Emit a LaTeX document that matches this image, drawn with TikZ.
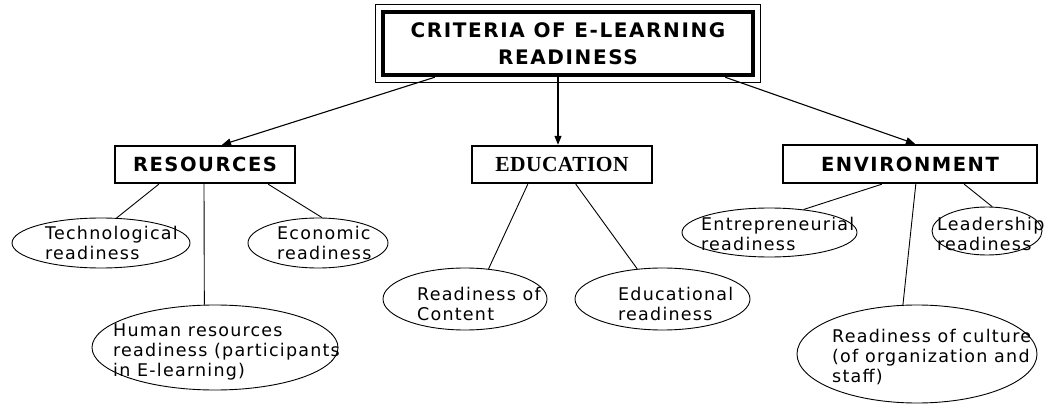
\documentclass[tikz,border=0pt]{standalone}
\usepackage{fontspec}
\setmainfont{DejaVu Sans}
\newfontfamily\regfont[LetterSpace=7]{DejaVu Sans}
\newfontfamily\hdfont[LetterSpace=8]{DejaVu Sans}
\newfontfamily\edufont[LetterSpace=2]{Liberation Serif}
\usetikzlibrary{arrows.meta,shapes.geometric}

\begin{document}
\begin{tikzpicture}[x=1pt,y=-1pt,
  catbox/.style={draw, line width=2.4pt, rectangle, minimum height=37pt, inner sep=0pt,
                 font=\hdfont\bfseries\fontsize{19.5}{20}\selectfont},
  oval/.style={draw, ellipse, line width=0.9pt, inner sep=0pt},
  lbl/.style={anchor=north west, inner sep=0pt, align=left,
              font=\regfont\fontsize{17.5}{20}\selectfont},
  link/.style={line width=0.9pt},
  arr/.style={line width=1.1pt, -{Triangle[length=9pt,width=7pt]}}]
\useasboundingbox (0,0) rectangle (1044,406);

% title
\node[draw, line width=4.5pt, minimum width=370pt, minimum height=63pt, inner sep=0pt,
      align=center, font=\hdfont\bfseries\fontsize{20}{27}\selectfont]
  (title) at (568,43.5) {CRITERIA OF E-LEARNING\\READINESS};
\draw[line width=1pt] ([shift={(-5pt,5pt)}]title.north west) rectangle ([shift={(5pt,-5pt)}]title.south east);

% categories
\node[catbox, minimum width=180pt] (res) at (205,164.5) {RESOURCES};
\node[catbox, minimum width=180pt, font=\edufont\bfseries\fontsize{21.5}{22}\selectfont] (edu) at (562,164.5) {EDUCATION};
\node[catbox, minimum width=254pt, minimum height=38pt] (env) at (910,164) {ENVIRONMENT};

% arrows
\draw[arr] ([xshift=54pt]title.south west) -- ([xshift=17pt]res.north);
\draw[arr] ([xshift=-10pt]title.south) -- ([xshift=-4pt]edu.north);
\draw[arr] ([xshift=-30pt]title.south east) -- ([xshift=5pt]env.north);

% ellipses
\node[oval, minimum width=178pt, minimum height=50pt] (tech) at (101,243) {};
\node[oval, minimum width=140pt, minimum height=50pt] (econ) at (318,243) {};
\node[oval, minimum width=246pt, minimum height=85pt] (human) at (215,347.5) {};
\node[oval, minimum width=164pt, minimum height=62pt] (cont) at (465,299) {};
\node[oval, minimum width=175pt, minimum height=62pt] (educ) at (662.5,299) {};
\node[oval, minimum width=175pt, minimum height=49pt] (entre) at (769.5,232.5) {};
\node[oval, minimum width=110pt, minimum height=48pt] (lead) at (987,231) {};
\node[oval, minimum width=240pt, minimum height=98pt] (cult) at (917,354) {};

% labels
\node[lbl] (techt) at (45,226.5) {Technological\\readiness};
\node[lbl] (econt) at (277,226.5) {Economic\\readiness};
\node[lbl] (humant) at (113,323.5) {Human resources\\readiness (participants\\in E-learning)};
\node[lbl] (contt) at (417,287.5) {Readiness of\\Content};
\node[lbl] (educt) at (618,287.5) {Educational\\readiness};
\node[lbl] (entret) at (701,217.5) {Entrepreneurial\\readiness};
\node[lbl] (leadt) at (937,217.5) {Leadership\\readiness};
\node[lbl] (cultt) at (832,329.5) {Readiness of culture\\(of organization and\\staff)};

% links
\draw[link] ([xshift=45pt]res.south west) -- (tech.58);
\draw[link] ([xshift=-1pt]res.south) -- (human.104.2);
\draw[link] ([xshift=-28pt]res.south east) -- (econ.81.6);
\draw[link] ([xshift=57pt]edu.south west) -- (cont.52.8);
\draw[link] ([xshift=105pt]edu.south west) -- (educ.130.8);
\draw[link] ([xshift=100pt]env.south west) -- (entre.34);
\draw[link] ([xshift=-74pt]env.south east) -- (lead.78.6);
\draw[link] ([xshift=134pt]env.south west) -- (cult.106.7);
\end{tikzpicture}
\end{document}
